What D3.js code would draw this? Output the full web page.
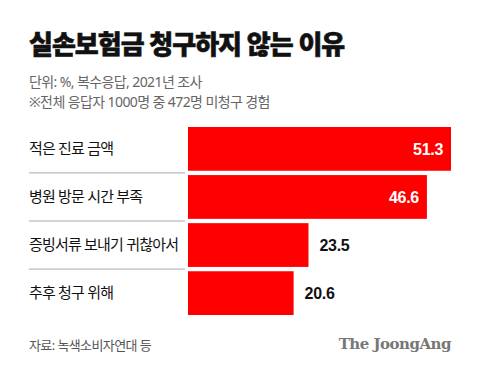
<!DOCTYPE html>
<html>
<head>
<meta charset="utf-8">
<script src="https://cdn.jsdelivr.net/npm/d3@7"></script>
<style>
  body { margin: 0; background: #fff; }
</style>
</head>
<body>
<div id="chart-area"></div>
<script>
// data
const categories = ["적은 진료 금액", "병원 방문 시간 부족", "증빙서류 보내기 귀찮아서", "추후 청구 위해"]
const values = [51.3, 46.6, 23.5, 20.6]

const WIDTH = 480
const HEIGHT = 370
const MARGIN = { LEFT: 29, BAR_LEFT: 188, TOP: 127, BOTTOM: 56 }
const KR = "'Noto Sans', 'Noto Sans CJK KR', sans-serif"

const svg = d3.select("#chart-area").append("svg")
	.attr("width", WIDTH)
	.attr("height", HEIGHT)
	.style("font-family", KR)

svg.append("rect").attr("width", WIDTH).attr("height", HEIGHT).attr("fill", "#fff")

// title + notes
svg.append("text")
	.attr("x", 29).attr("y", 54)
	.attr("font-size", "26px")
	.attr("font-weight", 900)
	.attr("letter-spacing", "-1px")
	.attr("fill", "#111")
	.attr("stroke", "#111")
	.attr("stroke-width", 0.6)
	.text("실손보험금 청구하지 않는 이유")

svg.append("text")
	.attr("x", 29).attr("y", 87)
	.attr("font-size", "14px")
	.attr("letter-spacing", "-0.6px")
	.attr("fill", "#666")
	.text("단위: %, 복수응답, 2021년 조사")

svg.append("text")
	.attr("x", 29).attr("y", 107)
	.attr("font-size", "14px")
	.attr("letter-spacing", "-0.6px")
	.attr("fill", "#666")
	.text("※전체 응답자 1000명 중 472명 미청구 경험")

// scales
const x = d3.scaleLinear().domain([0, 51.3]).range([MARGIN.BAR_LEFT, 451])
const y = d3.scaleBand()
	.domain(categories)
	.range([MARGIN.TOP, 315])
	.paddingInner(0.09)
	.paddingOuter(0)

const g = svg.append("g")

// separators between rows
g.selectAll(".sep")
	.data(categories.slice(0, -1))
	.enter().append("line")
	.attr("class", "sep")
	.attr("x1", 29).attr("x2", 185)
	.attr("y1", d => y(d) + y.bandwidth() + y.step() * y.paddingInner() / 2)
	.attr("y2", d => y(d) + y.bandwidth() + y.step() * y.paddingInner() / 2)
	.attr("stroke", "#aaa")
	.attr("stroke-width", 1)

g.selectAll(".bar")
	.data(values)
	.enter().append("rect")
	.attr("class", "bar")
	.attr("x", x(0))
	.attr("y", (d, i) => y(categories[i]))
	.attr("width", d => x(d) - x(0))
	.attr("height", y.bandwidth())
	.attr("fill", "#ff0000")

g.selectAll(".cat")
	.data(categories)
	.enter().append("text")
	.attr("class", "cat")
	.attr("x", 29)
	.attr("y", d => y(d) + y.bandwidth() / 2)
	.attr("dy", "0.35em")
	.attr("font-size", "15px")
	.attr("letter-spacing", "-0.8px")
	.attr("fill", "#111")
	.text(d => d)

// value labels: inside for long bars, outside for short ones
g.selectAll(".val")
	.data(values)
	.enter().append("text")
	.attr("class", "val")
	.attr("x", d => d > 30 ? x(d) - 8 : x(d) + 11)
	.attr("y", (d, i) => y(categories[i]) + y.bandwidth() / 2)
	.attr("dy", "0.36em")
	.attr("text-anchor", d => d > 30 ? "end" : "start")
	.style("font-family", "'Liberation Sans', Arial, sans-serif")
	.attr("font-size", "16px")
	.attr("font-weight", "bold")
	.attr("letter-spacing", "-0.3px")
	.attr("fill", d => d > 30 ? "#fff" : "#111")
	.text(d => d3.format(".1f")(d))

// footer
svg.append("text")
	.attr("x", 29).attr("y", 350)
	.attr("font-size", "13px")
	.attr("letter-spacing", "-0.6px")
	.attr("fill", "#555")
	.text("자료: 녹색소비자연대 등")

svg.append("text")
	.attr("x", 451).attr("y", 349)
	.attr("text-anchor", "end")
	.style("font-family", "'DejaVu Serif', 'Liberation Serif', serif")
	.attr("font-size", "15px")
	.attr("font-weight", "bold")
	.attr("letter-spacing", "-0.5px")
	.attr("fill", "#777")
	.text("The JoongAng")
</script>
</body>
</html>
